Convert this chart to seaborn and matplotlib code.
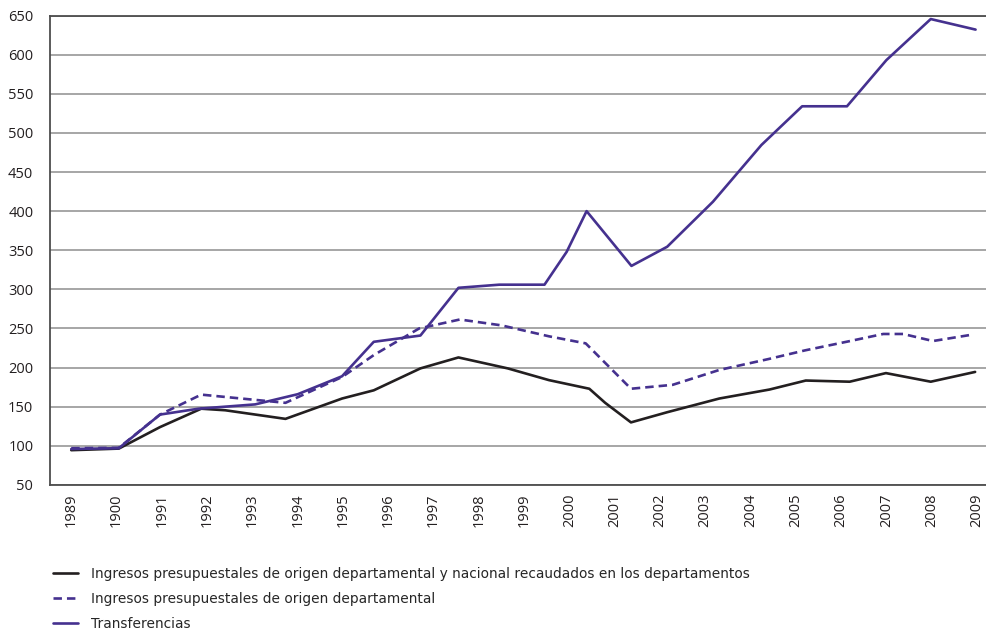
import pandas as pd
import seaborn as sns
import matplotlib.pyplot as plt

# year tick labels as printed in the source (second one really reads 1900)
year_ticks = list(range(1989, 2010))
year_labels = ['1989', '1900'] + [str(y) for y in range(1991, 2010)]

# series vertices (x in year units, y in index value)
total_x = [1989, 1990.05, 1990.96, 1991.87, 1992.4, 1993.73, 1994.98, 1995.68, 1996.71,
           1997.55, 1998.64, 1999.55, 2000.44, 2000.79, 2001.36, 2002.16, 2003.31,
           2004.42, 2005.22, 2006.19, 2006.99, 2007.98, 2008.96]
total_y = [94.5, 96.5, 124, 147.5, 145.5, 134.5, 160.5, 171, 199,
           213, 199, 184, 173, 155, 130, 143, 160.5,
           172, 183.5, 182, 193, 182, 194.5]

dep_x = [1989, 1990.05, 1990.96, 1991.87, 1993.73, 1994.98, 1995.68, 1996.68, 1997.58,
         1998.5, 1999.55, 2000.36, 2001.36, 2002.28, 2003.31, 2004.4, 2005.2, 2006.2,
         2006.93, 2007.37, 2008.03, 2008.88]
dep_y = [97, 97.5, 140, 165.5, 155, 188, 216, 250, 261.5,
         254, 240, 231, 173, 178, 197, 211, 222, 234,
         243, 243, 234, 242]

trans_x = [1989, 1990.05, 1990.96, 1991.81, 1993.06, 1994.0, 1994.98, 1995.68, 1996.71,
           1997.55, 1998.45, 1999.45, 1999.94, 2000.38, 2001.37, 2002.16, 2003.17,
           2004.24, 2005.14, 2006.13, 2007.0, 2007.98, 2008.97]
trans_y = [96, 97, 140, 147.5, 153, 166, 189, 233, 241,
           302, 306, 306, 348, 400, 330, 354.5, 412,
           484.5, 534, 534, 593, 645.5, 632]

names = ['Ingresos presupuestales de origen departamental y nacional recaudados en los departamentos',
         'Ingresos presupuestales de origen departamental',
         'Transferencias']

df = pd.concat([
    pd.DataFrame({'anio': total_x, 'valor': total_y, 'serie': names[0]}),
    pd.DataFrame({'anio': dep_x, 'valor': dep_y, 'serie': names[1]}),
    pd.DataFrame({'anio': trans_x, 'valor': trans_y, 'serie': names[2]}),
])

sns.set_style('white')
plt.rcParams['font.family'] = ['Open Sans', 'DejaVu Sans']

purple = '#45318f'
fig = plt.figure(figsize=(9.86, 6.31), dpi=100)
ax = fig.add_axes([0.0507, 0.2314, 0.9493, 0.744])

sns.lineplot(data=df, x='anio', y='valor', hue='serie', style='serie',
             hue_order=names, style_order=names,
             palette={names[0]: '#231f20', names[1]: purple, names[2]: purple},
             dashes={names[0]: '', names[1]: (3.2, 1.9), names[2]: ''},
             linewidth=1.9, estimator=None, sort=False, ax=ax, legend=True)

ax.set_xlim(1988.53, 2009.2)
ax.set_ylim(50, 650)
ax.set_yticks(range(50, 651, 50))
ax.set_xticks(year_ticks)
ax.set_xticklabels(year_labels, rotation=90)
ax.set_xlabel('')
ax.set_ylabel('')
ax.tick_params(axis='both', length=0, labelsize=10.5, colors='#231f20')
ax.tick_params(axis='x', pad=6)
ax.tick_params(axis='y', pad=12)
ax.grid(axis='y', color='#a6a6a6', linewidth=1.4)
ax.set_axisbelow(True)
for side in ['left', 'bottom', 'top']:
    ax.spines[side].set_color('#4d4d4d')
    ax.spines[side].set_linewidth(1.3)
ax.spines['right'].set_visible(False)

handles, labels = ax.get_legend_handles_labels()
ax.legend_.remove()
fig.legend(handles, labels, loc='upper left', bbox_to_anchor=(0.041, 0.121),
           frameon=False, handlelength=1.8, handletextpad=0.95, labelspacing=0.8,
           prop={'family': ['DejaVu Sans'], 'size': 9.9})

fig.savefig('out.png', dpi=100)
